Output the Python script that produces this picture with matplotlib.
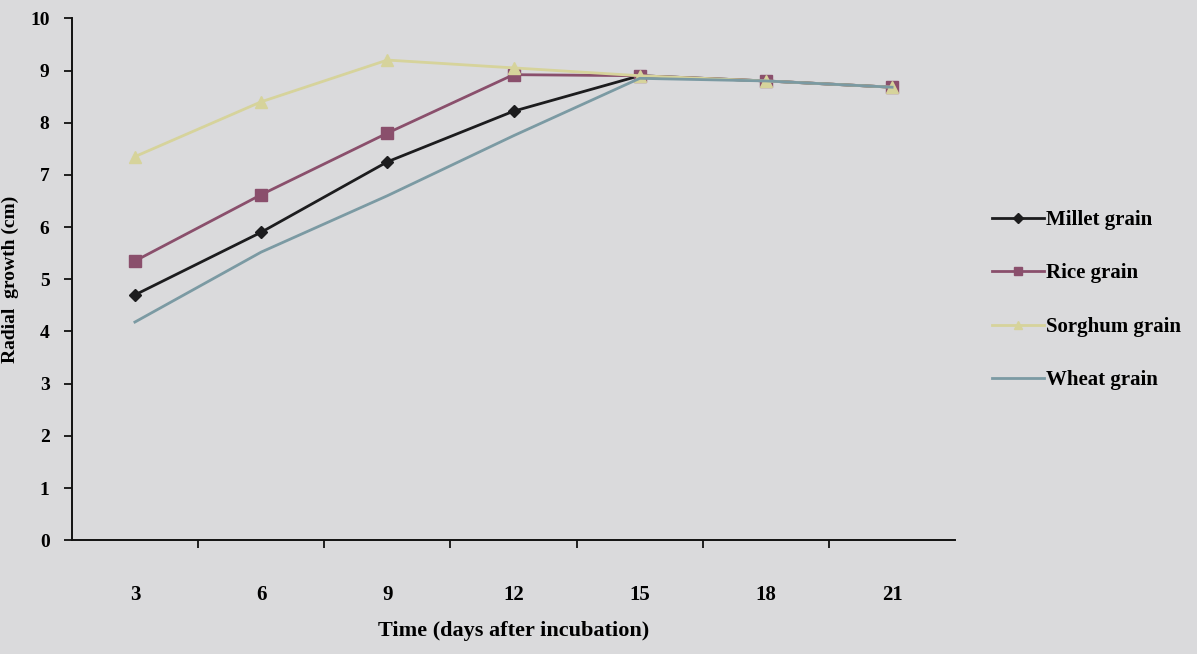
import matplotlib

matplotlib.use("Agg")

import matplotlib.pyplot as plt
from matplotlib.ticker import FixedLocator

# radial growth (cm) of the fungus on each grain substrate
days = ["3", "6", "9", "12", "15", "18", "21"]
millet = [4.7, 5.9, 7.25, 8.22, 8.9, 8.8, 8.68]
rice = [5.35, 6.62, 7.8, 8.92, 8.9, 8.8, 8.68]
sorghum = [7.35, 8.4, 9.2, 9.05, 8.9, 8.8, 8.68]
wheat = [4.18, 5.52, 6.6, 7.75, 8.85, 8.8, 8.68]

series = [
    ("Millet grain", millet, "#1c1c1e", "D", 6),
    ("Rice grain", rice, "#8a4f6c", "s", 8),
    ("Sorghum grain", sorghum, "#d6d39b", "^", 8),
    ("Wheat grain", wheat, "#7b9aa3", None, 0),
]

bg = "#dadadc"
plt.rcParams["font.family"] = ["Liberation Serif", "DejaVu Serif"]
plt.rcParams["font.weight"] = "bold"

fig = plt.figure(figsize=(11.97, 6.54), dpi=100, facecolor=bg)
ax = fig.add_axes([0.060, 0.174, 0.738, 0.798], facecolor=bg)

x = range(len(days))
for name, values, color, marker, size in series:
    ax.plot(x, values, color=color, linewidth=2, marker=marker,
            markersize=size, markeredgecolor=color, label=name)

ax.set_xlim(-0.5, len(days) - 0.5)
ax.set_ylim(0, 10)
ax.set_xticks(list(x))
ax.set_xticklabels(days, fontsize=15, fontweight="bold")
ax.xaxis.set_minor_locator(FixedLocator([i + 0.5 for i in range(len(days) - 1)]))
ax.tick_params(axis="x", which="major", length=0, pad=32)
ax.tick_params(axis="x", which="minor", length=6, width=1.2, direction="out")
ax.set_yticks(range(0, 11))
ax.tick_params(axis="y", length=6, width=1.2, direction="out", pad=10,
               labelsize=14)
for lbl in ax.get_yticklabels():
    lbl.set_fontweight("bold")

for side in ("top", "right"):
    ax.spines[side].set_visible(False)
for side in ("left", "bottom"):
    ax.spines[side].set_linewidth(1.4)
    ax.spines[side].set_color("#111111")

ax.set_xlabel("Time (days after incubation)", fontsize=16, fontweight="bold",
              labelpad=12)
ax.set_ylabel("Radial  growth (cm)", fontsize=14, fontweight="bold",
              labelpad=8)

leg = ax.legend(loc="center left", bbox_to_anchor=(1.02, 0.46), frameon=False,
                fontsize=15, handlelength=2.5, handletextpad=0.1,
                labelspacing=1.6, markerscale=0.8)
for text in leg.get_texts():
    text.set_fontweight("bold")

fig.savefig("out.png", dpi=100, facecolor=bg)
